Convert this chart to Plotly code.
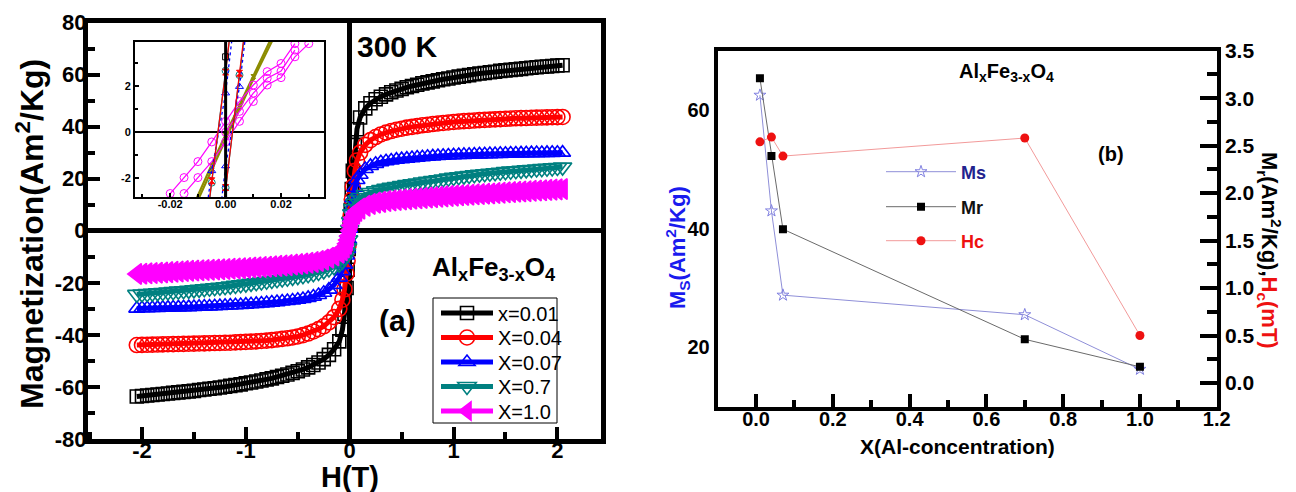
import plotly.graph_objects as go

W, H = 1296, 492
FONT = "Liberation Sans, Arial, sans-serif"

# ---------------- panel (a): M(H) loops at 300 K ----------------
field_T = [-2.05, -2.0, -1.95, -1.9, -1.85, -1.8, -1.75, -1.7, -1.65, -1.6,
           -1.55, -1.5, -1.45, -1.4, -1.35, -1.3, -1.25, -1.2, -1.15, -1.1,
           -1.05, -1.0, -0.95, -0.9, -0.85, -0.8, -0.75, -0.7, -0.65, -0.6,
           -0.55, -0.5, -0.45, -0.4, -0.35, -0.3, -0.25, -0.2, -0.15, -0.1,
           -0.07, -0.05, -0.03, -0.02, -0.01,
           0.0,
           0.01, 0.02, 0.03, 0.05, 0.07,
           0.1, 0.15, 0.2, 0.25, 0.3, 0.35, 0.4, 0.45, 0.5, 0.55,
           0.6, 0.65, 0.7, 0.75, 0.8, 0.85, 0.9, 0.95, 1.0, 1.05,
           1.1, 1.15, 1.2, 1.25, 1.3, 1.35, 1.4, 1.45, 1.5, 1.55,
           1.6, 1.65, 1.7, 1.75, 1.8, 1.85, 1.9, 1.95, 2.0, 2.05]

m_x001 = [-63.7, -63.5, -63.3, -63.1, -62.9, -62.7, -62.5, -62.3, -62.1, -61.9,
          -61.7, -61.5, -61.2, -61.0, -60.7, -60.5, -60.2, -59.9, -59.6, -59.3,
          -59.0, -58.6, -58.3, -57.9, -57.5, -57.1, -56.7, -56.2, -55.7, -55.2,
          -54.6, -54.0, -53.3, -52.5, -51.6, -50.6, -49.3, -47.7, -45.5, -42.5,
          -38.0, -32.0, -22.0, -15.0, -7.0,
          3.0,
          8.0, 16.0, 23.0, 33.0, 39.0,
          43.5, 47.0, 49.0, 50.5, 51.5, 52.4, 53.2, 53.9, 54.5, 55.1,
          55.6, 56.1, 56.6, 57.0, 57.4, 57.8, 58.2, 58.5, 58.9, 59.2,
          59.5, 59.8, 60.1, 60.4, 60.6, 60.9, 61.1, 61.4, 61.6, 61.8,
          62.0, 62.2, 62.4, 62.6, 62.8, 63.0, 63.1, 63.3, 63.5, 63.6]

m_x004 = [-43.9, -43.85, -43.8, -43.75, -43.7, -43.65, -43.6, -43.55, -43.5, -43.45,
          -43.4, -43.35, -43.3, -43.25, -43.2, -43.15, -43.1, -43.05, -43.0, -42.9,
          -42.8, -42.7, -42.6, -42.5, -42.35, -42.2, -42.0, -41.8, -41.55, -41.3,
          -41.0, -40.6, -40.1, -39.5, -38.7, -37.8, -36.7, -35.2, -33.2, -30.0,
          -26.5, -22.5, -16.5, -11.5, -5.5,
          1.0,
          6.0, 12.0, 17.0, 23.0, 27.0,
          30.0, 33.0, 34.8, 36.0, 37.0, 37.7, 38.3, 38.8, 39.2, 39.6,
          39.9, 40.2, 40.5, 40.7, 41.0, 41.2, 41.4, 41.6, 41.8, 41.95,
          42.1, 42.2, 42.35, 42.5, 42.6, 42.7, 42.8, 42.9, 43.0, 43.1,
          43.2, 43.25, 43.3, 43.4, 43.45, 43.5, 43.55, 43.6, 43.65, 43.7]

m_x007 = [-29.9, -29.8, -29.75, -29.7, -29.65, -29.6, -29.55, -29.5, -29.45, -29.4,
          -29.35, -29.3, -29.2, -29.15, -29.1, -29.0, -28.9, -28.8, -28.7, -28.6,
          -28.5, -28.4, -28.25, -28.1, -27.95, -27.8, -27.6, -27.4, -27.2, -27.0,
          -26.8, -26.5, -26.2, -25.8, -25.3, -24.7, -23.8, -22.6, -20.8, -18.0,
          -15.5, -13.0, -9.5, -7.0, -3.5,
          0.8,
          5.0, 9.0, 12.5, 16.5, 19.5,
          21.5, 23.7, 24.9, 25.7, 26.3, 26.7, 27.0, 27.3, 27.5, 27.7,
          27.9, 28.1, 28.25, 28.4, 28.55, 28.7, 28.8, 28.9, 29.0, 29.1,
          29.15, 29.2, 29.3, 29.35, 29.4, 29.45, 29.5, 29.55, 29.6, 29.65,
          29.7, 29.72, 29.75, 29.8, 29.82, 29.85, 29.9, 29.92, 29.95, 30.0]

m_x07 = [-24.45, -24.3, -24.15, -24.0, -23.85, -23.7, -23.55, -23.4, -23.2, -23.05,
         -22.9, -22.7, -22.5, -22.3, -22.1, -21.9, -21.7, -21.5, -21.25, -21.0,
         -20.75, -20.5, -20.2, -19.95, -19.7, -19.4, -19.1, -18.8, -18.5, -18.2,
         -17.9, -17.6, -17.3, -16.9, -16.5, -16.0, -15.4, -14.7, -13.9, -12.8,
         -11.8, -10.5, -8.5, -6.5, -3.5,
         0.5,
         3.5, 6.5, 8.5, 10.5, 11.8,
         12.8, 13.9, 14.7, 15.3, 15.8, 16.3, 16.7, 17.0, 17.35, 17.7,
         18.0, 18.35, 18.7, 19.0, 19.3, 19.6, 19.9, 20.2, 20.5, 20.75,
         21.0, 21.25, 21.5, 21.7, 21.9, 22.1, 22.3, 22.5, 22.7, 22.9,
         23.05, 23.2, 23.4, 23.55, 23.7, 23.85, 24.0, 24.15, 24.3, 24.45]

m_x10 = [-16.6, -16.5, -16.35, -16.25, -16.1, -16.0, -15.9, -15.75, -15.65, -15.5,
         -15.4, -15.3, -15.2, -15.1, -15.0, -14.9, -14.8, -14.7, -14.6, -14.5,
         -14.4, -14.3, -14.15, -14.05, -13.9, -13.8, -13.65, -13.5, -13.35, -13.2,
         -13.0, -12.8, -12.55, -12.3, -12.0, -11.6, -11.1, -10.4, -9.5, -8.4,
         -7.5, -6.4, -5.0, -3.6, -2.0,
         0.0,
         2.0, 3.6, 5.0, 6.5, 7.6,
         8.5, 9.6, 10.3, 10.8, 11.1, 11.4, 11.65, 11.85, 12.0, 12.15,
         12.3, 12.45, 12.6, 12.75, 12.9, 13.05, 13.2, 13.35, 13.5, 13.6,
         13.75, 13.85, 14.0, 14.1, 14.25, 14.35, 14.5, 14.6, 14.75, 14.85,
         15.0, 15.1, 15.2, 15.35, 15.45, 15.55, 15.7, 15.8, 15.9, 16.0]

loop_names = ["x=0.01", "X=0.04", "X=0.07", "X=0.7", "X=1.0"]
loop_values = [m_x001, m_x004, m_x007, m_x07, m_x10]

# ---------------- inset: low-field region ----------------
ins_black_H = [0.0, 0.0, 0.0]
ins_black_M = [-4.5, 3.26, 4.5]
ins_red_H = [0.005, 0.0, -0.005, -0.01, None, -0.005, 0.0, 0.005, 0.01]
ins_red_M = [7.8, 2.6, -2.1, -7.0, None, -7.5, -2.39, 2.55, 7.5]
ins_teal_H = [0.005, 0.0, -0.005, -0.01, None, -0.005, 0.0, 0.005, 0.01]
ins_teal_M = [7.5, 2.66, -2.18, -7.0, None, -7.3, -2.4, 2.47, 7.3]
ins_blue_H = [0.005, 0.0, -0.005, -0.01, None, -0.005, 0.0, 0.005, 0.01]
ins_blue_M = [6.8, 1.69, -1.67, -6.2, None, -6.5, -1.46, 1.97, 7.0]
ins_olive_H = [0.017, 0.01, 0.005, 0.0, -0.005, -0.011, None,
               -0.011, -0.005, 0.0, 0.005, 0.01, 0.017]
ins_olive_M = [4.2, 2.45, 1.15, -0.1, -1.4, -3.0, None,
               -3.2, -1.6, -0.3, 1.0, 2.3, 4.0]
ins_mag_H = [-0.02, -0.015, -0.01, -0.005, 0.0, 0.005, 0.01, 0.015, 0.02, 0.025, None,
             0.0, 0.005, 0.01, 0.015, 0.02, 0.025, None,
             -0.015, -0.01, -0.005, 0.0, 0.005, 0.01, 0.015, 0.02, 0.025, 0.03]
ins_mag_M = [-2.65, -1.96, -1.27, -0.42, 0.47, 1.33, 2.04, 2.62, 2.97, 3.83, None,
             0.0, 0.90, 1.69, 2.33, 2.64, 3.55, None,
             -2.65, -1.96, -1.27, -0.42, 0.47, 1.33, 2.04, 2.36, 3.26, 3.83]

# ---------------- panel (b): parameters vs Al content ----------------
al_conc = [0.01, 0.04, 0.07, 0.7, 1.0]
ms_vals = [62.5, 43.0, 28.8, 25.5, 16.3]
mr_vals = [3.21, 2.39, 1.62, 0.46, 0.17]
hc_vals = [2.54, 2.59, 2.39, 2.58, 0.50]


def px_x(p):
    return p / W


def px_y(p):
    return 1 - p / H


fig = go.Figure()

# one legend per entry so that row spacing follows the printed key
loop_legends = ["legend", "legend3", "legend4", "legend5", "legend6"]
loop_rows = [313, 337.5, 362, 386.5, 411]
styles = [
    dict(color="black", symbol="square-open", size=13),
    dict(color="red", symbol="circle-open", size=15),
    dict(color="blue", symbol="triangle-up-open", size=14),
    dict(color="#008080", symbol="triangle-down-open", size=16),
    dict(color="#ff00ff", symbol="triangle-left", size=18),
]
for name, vals, st, lg in zip(loop_names, loop_values, styles, loop_legends):
    fig.add_trace(go.Scatter(
        x=field_T, y=vals, mode="lines+markers", name=name,
        line=dict(color=st["color"], width=5),
        marker=dict(symbol=st["symbol"], size=st["size"], color=st["color"],
                    line=dict(color=st["color"], width=1.6)),
        xaxis="x", yaxis="y", legend=lg))

# inset traces
inset_specs = [
    (ins_olive_H, ins_olive_M, "#8c8c00", 2.2, "solid", "triangle-down", 4),
    (ins_mag_H, ins_mag_M, "#ff00ff", 1.2, "solid", "circle-open", 8),
    (ins_teal_H, ins_teal_M, "#008080", 1.3, "solid", "circle-open", 7),
    (ins_blue_H, ins_blue_M, "blue", 1.3, "dot", "triangle-up-open", 7),
    (ins_red_H, ins_red_M, "red", 1.2, "solid", "hourglass", 6),
    (ins_black_H, ins_black_M, "black", 3, "solid", "square-open", 6),
]
for hx, my, col, lw, dash, sym, sz in inset_specs:
    fig.add_trace(go.Scatter(
        x=hx, y=my, mode="lines+markers", showlegend=False,
        line=dict(color=col, width=lw, dash=dash),
        marker=dict(symbol=sym, size=sz, color=col, line=dict(color=col, width=1)),
        xaxis="x2", yaxis="y2"))

# panel (b) traces
fig.add_trace(go.Scatter(
    x=al_conc, y=ms_vals, mode="lines+markers",
    name="<b><span style='color:#22228e'>Ms</span></b>",
    line=dict(color="#8f8fd8", width=1),
    marker=dict(symbol="star-open", size=9, color="#8080e0", line=dict(width=1, color="#8080e0")),
    xaxis="x3", yaxis="y3", legend="legend2"))
fig.add_trace(go.Scatter(
    x=al_conc, y=mr_vals, mode="lines+markers",
    name="<b><span style='color:#111111'>Mr</span></b>",
    line=dict(color="#6a6a6a", width=1),
    marker=dict(symbol="square", size=8, color="black"),
    xaxis="x3", yaxis="y5", legend="legend7"))
fig.add_trace(go.Scatter(
    x=al_conc, y=hc_vals, mode="lines+markers",
    name="<b><span style='color:#ee1111'>Hc</span></b>",
    line=dict(color="#f29a9a", width=1),
    marker=dict(symbol="circle", size=9, color="#ee1111"),
    xaxis="x3", yaxis="y5", legend="legend8"))

bold = dict(family=FONT, color="black", weight="bold")

main_ax = dict(showgrid=False, showline=True, linecolor="black", linewidth=5,
               mirror=True, ticks="inside", tickcolor="black", ticklen=12, tickwidth=4,
               zeroline=True, zerolinecolor="black", zerolinewidth=5, automargin=False,
               tickfont=dict(size=22, **bold))

layout_axes = dict(
    xaxis=dict(main_ax, domain=[px_x(88), px_x(601)], range=[-2.52, 2.42], anchor="y",
               tickvals=[-2, -1, 0, 1, 2], ticktext=["-2", "-1", "0", "1", "2"],
               ticklabelstandoff=-12,
               minor=dict(dtick=0.5, tick0=0, ticklen=7, tickwidth=4, ticks="inside",
                          tickcolor="black")),
    yaxis=dict(main_ax, domain=[px_y(439), px_y(22.5)], range=[-80, 80], anchor="x",
               tickvals=[-80, -60, -40, -20, 0, 20, 40, 60, 80],
               ticktext=["-80", "-60", "-40", "-20", "0", "20", "40", "60", "80"],
               ticklabelstandoff=-8,
               minor=dict(dtick=10, tick0=0, ticklen=7, tickwidth=4, ticks="inside",
                          tickcolor="black")),
    xaxis2=dict(domain=[px_x(135), px_x(324)], range=[-0.0327, 0.0355], anchor="y2",
                showgrid=False, zeroline=False, showline=True, linecolor="black",
                linewidth=2, mirror=True, ticks="inside", ticklen=4, tickwidth=1.5,
                tickcolor="black", tickvals=[-0.02, 0.0, 0.02], automargin=False,
                ticktext=["-0.02", "0.00", "0.02"], ticklabelstandoff=-4,
                minor=dict(dtick=0.01, tick0=0, ticklen=3, tickwidth=1.5, ticks="inside",
                           tickcolor="black"),
                tickfont=dict(size=11, **bold)),
    yaxis2=dict(domain=[px_y(197), px_y(42)], range=[-2.8, 3.9], anchor="x2",
                showgrid=False, zeroline=True, zerolinecolor="black", zerolinewidth=2,
                showline=True, linecolor="black", linewidth=2, mirror=True,
                ticks="inside", ticklen=4, tickwidth=1.5, tickcolor="black",
                tickvals=[-2, 0, 2], ticktext=["-2", "0", "2"], automargin=False,
                minor=dict(dtick=1, tick0=0, ticklen=3, tickwidth=1.5, ticks="inside",
                           tickcolor="black"),
                tickfont=dict(size=11, **bold)),
    xaxis3=dict(domain=[px_x(717.7), px_x(1216.7)], range=[-0.1, 1.2], anchor="y3",
                showgrid=False, zeroline=False, showline=True, linecolor="black",
                linewidth=4, mirror=True, ticks="inside", ticklen=13, tickwidth=4,
                tickcolor="black", dtick=0.2, tick0=0, tickformat=".1f", automargin=False,
                ticklabelstandoff=-9,
                minor=dict(dtick=0.1, tick0=0, ticklen=7, tickwidth=4, ticks="inside",
                           tickcolor="black"),
                tickfont=dict(size=20, **bold)),
    yaxis3=dict(domain=[px_y(406.7), px_y(50.7)], range=[10, 70], anchor="x3",
                showgrid=False, zeroline=False, showline=True, linecolor="black",
                linewidth=4, ticks="", tickvals=[20, 40, 60], ticktext=["20", "40", "60"],
                automargin=False, tickfont=dict(size=20, **bold)),
    yaxis4=dict(domain=[px_y(406.7), px_y(50.7)], range=[10, 70], anchor="x3",
                overlaying="y3", showgrid=False, zeroline=False, showline=False,
                ticks="inside", ticklen=17, tickwidth=4, tickcolor="black",
                tickvals=[14, 22, 30, 38, 46, 54, 62], showticklabels=False,
                automargin=False,
                minor=dict(tickvals=[18, 26, 34, 42, 50, 58, 66], ticklen=10,
                           tickwidth=4, ticks="inside", tickcolor="black")),
    yaxis5=dict(domain=[px_y(406.7), px_y(50.7)], range=[-0.25, 3.5], anchor="x3",
                overlaying="y3", side="right", showgrid=False, zeroline=False,
                showline=True, linecolor="black", linewidth=4, ticks="inside",
                ticklen=17, tickwidth=4, tickcolor="black", dtick=0.5, tick0=0,
                tickformat=".1f", automargin=False,
                minor=dict(dtick=0.25, tick0=0, ticklen=10, tickwidth=4, ticks="inside",
                           tickcolor="black"),
                tickfont=dict(size=21, **bold)),
)

legends = {}
for lg, row in zip(loop_legends, loop_rows):
    legends[lg] = dict(x=px_x(436), y=px_y(row), xanchor="left", yanchor="middle",
                       bgcolor="rgba(0,0,0,0)", borderwidth=0,
                       font=dict(family=FONT, size=20, color="black"),
                       itemwidth=52, tracegroupgap=0)
for lg, row in zip(["legend2", "legend7", "legend8"], [172, 207, 241]):
    legends[lg] = dict(x=px_x(881), y=px_y(row), xanchor="left", yanchor="middle",
                       bgcolor="rgba(0,0,0,0)", borderwidth=0,
                       font=dict(family=FONT, size=18, color="black"),
                       itemwidth=70, tracegroupgap=0)

fig.update_layout(
    width=W, height=H, autosize=False,
    margin=dict(l=0, r=0, t=0, b=0, autoexpand=False),
    paper_bgcolor="white", plot_bgcolor="white",
    font=dict(family=FONT, color="black"),
    **layout_axes, **legends,
)

# frame around the key of panel (a)
fig.add_shape(type="rect", xref="paper", yref="paper",
              x0=px_x(433), x1=px_x(557), y0=px_y(423), y1=px_y(298),
              line=dict(color="black", width=1), fillcolor="white", layer="below")

annots = [
    dict(x=px_x(30), y=px_y(234), text="<b>Magnetization(Am<sup>2</sup>/Kg)</b>",
         textangle=-90, font=dict(family=FONT, size=32, color="black")),
    dict(x=px_x(350), y=px_y(477), text="<b>H(T)</b>",
         font=dict(family=FONT, size=29, color="black")),
    dict(x=px_x(397), y=px_y(46), text="<b>300 K</b>",
         font=dict(family=FONT, size=30, color="black")),
    dict(x=px_x(494), y=px_y(268), text="<b>Al<sub>x</sub>Fe<sub>3-x</sub>O<sub>4</sub></b>",
         font=dict(family=FONT, size=26, color="black")),
    dict(x=px_x(398), y=px_y(320), text="<b>(a)</b>",
         font=dict(family=FONT, size=30, color="black")),
    dict(x=px_x(957), y=px_y(446), text="<b>X(Al-concentration)</b>",
         font=dict(family=FONT, size=21, color="black")),
    dict(x=px_x(678), y=px_y(248), text="<b>M<sub>S</sub>(Am<sup>2</sup>/Kg)</b>",
         textangle=-90, font=dict(family=FONT, size=22, color="#1a1aee")),
    dict(x=px_x(1270), y=px_y(250),
         text="<b>M<sub>r</sub>(Am<sup>2</sup>/Kg),<span style='color:#ee1111'>H<sub>c</sub>(mT)</span></b>",
         textangle=90, font=dict(family=FONT, size=22, color="black")),
    dict(x=px_x(1007), y=px_y(72), text="<b>Al<sub>x</sub>Fe<sub>3-x</sub>O<sub>4</sub></b>",
         font=dict(family=FONT, size=20, color="black")),
    dict(x=px_x(1111), y=px_y(154), text="<b>(b)</b>",
         font=dict(family=FONT, size=20, color="black")),
]
for a in annots:
    a.update(xref="paper", yref="paper", showarrow=False, xanchor="center", yanchor="middle")
fig.update_layout(annotations=annots)

fig.write_html("out.html")
